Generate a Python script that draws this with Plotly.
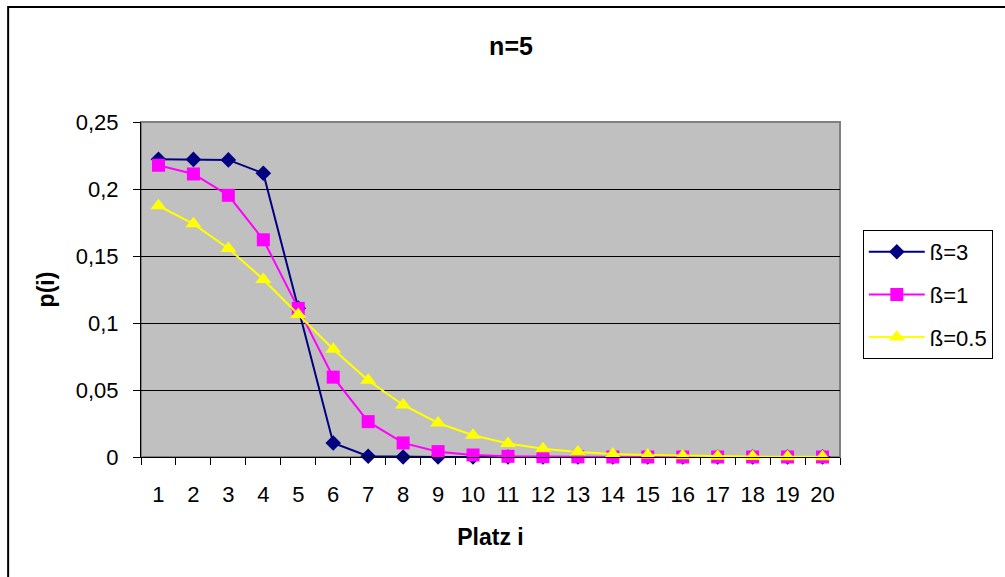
import plotly.graph_objects as go

# ---- data ----
platz = [str(i) for i in range(1, 21)]
beta3 = [0.2222, 0.2221, 0.2217, 0.2117, 0.1111, 0.0105, 0.0006, 0.00003,
         0.0, 0.0, 0.0, 0.0, 0.0, 0.0, 0.0, 0.0, 0.0, 0.0, 0.0, 0.0]
beta1 = [0.2177, 0.2112, 0.1953, 0.1621, 0.1109, 0.0596, 0.0264, 0.0105,
         0.0040, 0.0015, 0.0005, 0.0002, 0.0001, 0.0, 0.0, 0.0, 0.0, 0.0, 0.0, 0.0]
beta05 = [0.1875, 0.1740, 0.1556, 0.1325, 0.1064, 0.0804, 0.0572, 0.0388,
          0.0254, 0.0162, 0.0101, 0.0062, 0.0038, 0.0023, 0.0014, 0.0009,
          0.0005, 0.0003, 0.0002, 0.0001]
series_names = ["ß=3", "ß=1", "ß=0.5"]
y_tickvals = [0, 0.05, 0.1, 0.15, 0.2, 0.25]
y_ticktext = ["0", "0,05", "0,1", "0,15", "0,2", "0,25"]

FONT = "Arial, Liberation Sans, sans-serif"

fig = go.Figure()
styles = [
    dict(color="#000080", symbol="diamond", size=12),
    dict(color="#FF00FF", symbol="square", size=13),
    dict(color="#FFFF00", symbol="triangle-up", size=14),
]
for name, vals, st in zip(series_names, [beta3, beta1, beta05], styles):
    fig.add_trace(go.Scatter(
        x=platz, y=vals, name=name, mode="lines+markers",
        line=dict(color=st["color"], width=2),
        marker=dict(color=st["color"], symbol=st["symbol"], size=st["size"],
                    line=dict(width=0)),
        cliponaxis=False, legendgroup=name,
    ))

L, R, T, B = 141, 846, 122, 457
W, H = 1005, 577

def px_x(p):
    return (p - L) / (R - L)

def px_y(p):
    return (B - p) / (B - T)

fig.update_layout(
    width=W, height=H,
    margin=dict(l=L, r=W - R, t=T, b=H - B, pad=0),
    paper_bgcolor="white", plot_bgcolor="#C0C0C0",
    font=dict(family=FONT, size=22, color="black"),
    title=dict(text="<b>n=5</b>", font=dict(size=25, family=FONT),
               x=511 / W, xanchor="center", xref="container",
               y=1 - 46 / H, yanchor="middle", yref="container"),
    showlegend=True,
    legend=dict(x=px_x(869), y=px_y(230), xanchor="left", yanchor="top",
                bordercolor="black", borderwidth=1, bgcolor="white",
                font=dict(size=22, family=FONT), tracegroupgap=11,
                itemwidth=56, entrywidth=95, entrywidthmode="pixels"),
    xaxis=dict(type="category", range=[-0.5, 19.5], tickson="boundaries",
               ticks="outside", tickangle=0,
               ticklen=7, tickcolor="black", showline=True, linecolor="black",
               linewidth=1, showgrid=False, zeroline=False,
               ticklabelstandoff=18,
               title=dict(text="<b>Platz i</b>", font=dict(size=23), standoff=22)),
    yaxis=dict(range=[0, 0.25], tickvals=y_tickvals, ticktext=y_ticktext,
               ticks="outside", ticklen=7, tickcolor="black", showline=True,
               linecolor="black", linewidth=1, showgrid=True, gridcolor="black",
               gridwidth=1, zeroline=False, ticklabelstandoff=10,
               title=dict(text="<b>p(i)</b>", font=dict(size=23), standoff=14)),
)

# plot-area frame (gray) and outer chart border
fig.add_shape(type="rect", xref="paper", yref="paper", x0=0, x1=1, y0=0, y1=1,
              line=dict(color="#808080", width=2), layer="below")
fig.add_shape(type="rect", xref="paper", yref="paper",
              x0=px_x(7), x1=px_x(1020), y0=px_y(590), y1=px_y(7),
              line=dict(color="black", width=2), layer="above")

fig.write_html("out.html")
